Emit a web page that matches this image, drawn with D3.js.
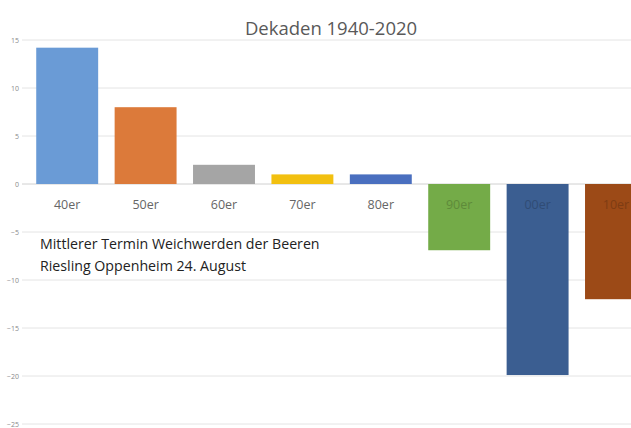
<!DOCTYPE html>
<html><head><meta charset="utf-8">
<script src="https://cdn.jsdelivr.net/npm/d3@7"></script>
<style>body{margin:0;background:#fff;overflow:hidden}svg{display:block}</style>
</head><body>
<script>
const categories = ["40er","50er","60er","70er","80er","90er","00er","10er"];
const values = [14.2, 8.0, 2.0, 1.0, 1.0, -6.9, -19.9, -12.0];
const colors = ["#6a9bd6","#dc7a3a","#a5a5a5","#f2c010","#4a6fbf","#74ab48","#3b5e91","#9c4a17"];
const yTicks = [15,10,5,0,-5,-10,-15,-20,-25];
const title = "Dekaden 1940-2020";
const note = ["Mittlerer Termin Weichwerden der Beeren","Riesling Oppenheim 24. August"];

const W = 631, H = 428;
const FONT = "'Open Sans', 'Liberation Sans', Arial, sans-serif";
const svg = d3.select("body").append("svg").attr("width", W).attr("height", H);

const y = d3.scaleLinear().domain([-25, 15]).range([424, 40]);
const x = d3.scaleBand().domain(categories).range([28, 28 + 8*78.4]).paddingInner(0.21).paddingOuter(0.105);

svg.append("text").attr("x", 331).attr("y", 35).attr("text-anchor","middle")
  .attr("font-family",FONT).attr("font-size",18.5).attr("fill","#595959").text(title);

const grid = svg.append("g");
grid.selectAll("line").data(yTicks).join("line")
  .attr("x1", 22).attr("x2", W).attr("y1", d=>y(d)).attr("y2", d=>y(d))
  .attr("stroke", d => d===0 ? "#d0d0d0" : "#e4e4e4").attr("stroke-width",1);

const yAxis = d3.axisLeft(y).tickValues(yTicks).tickSize(0).tickPadding(0);
const ya = svg.append("g").attr("transform","translate(19,0)").call(yAxis);
ya.select(".domain").remove();
ya.selectAll("text").attr("font-family",FONT).attr("font-size",7).attr("fill","#8a8a8a");

svg.append("g").selectAll("rect").data(values).join("rect")
  .attr("x",(d,i)=>x(categories[i])).attr("width",x.bandwidth())
  .attr("y",d=>y(Math.max(0,d))).attr("height",d=>Math.abs(y(d)-y(0)))
  .attr("fill",(d,i)=>colors[i]);

svg.append("g").selectAll("text").data(categories).join("text")
  .attr("x",d=>x(d)+x.bandwidth()/2).attr("y",y(0)+25).attr("text-anchor","middle")
  .attr("font-family",FONT).attr("font-size",12.5)
  .attr("fill",(d,i)=> values[i]<0 ? d3.color(colors[i]).darker(0.6) : "#666").text(d=>d);

svg.append("g").selectAll("text").data(note).join("text")
  .attr("x",40).attr("y",(d,i)=>249+i*22)
  .attr("font-family",FONT).attr("font-size",14.2).attr("fill","#222").text(d=>d);
</script>
</body></html>
